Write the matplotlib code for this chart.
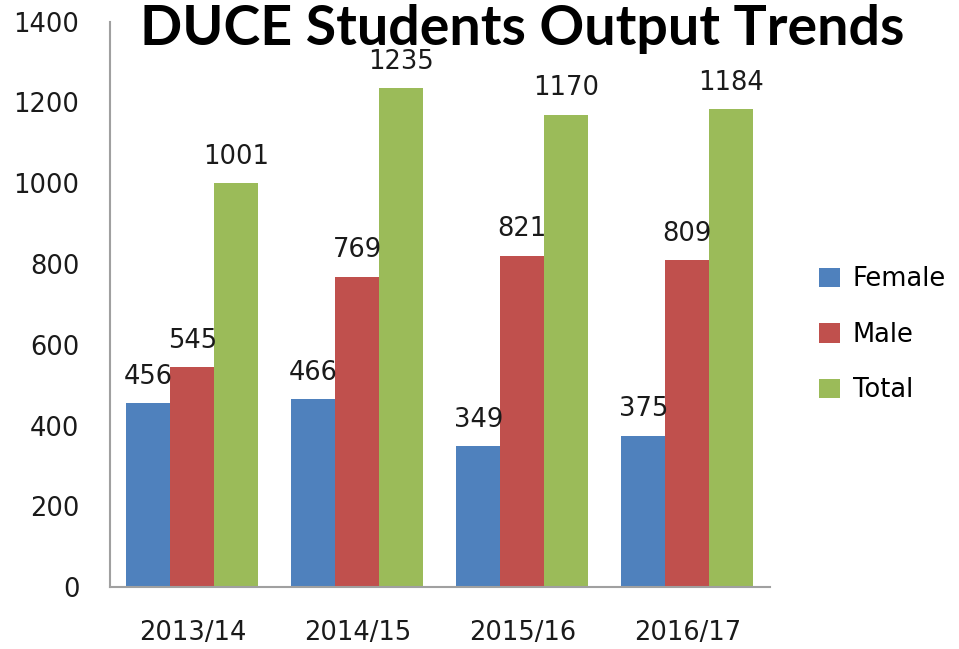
import numpy as np
import matplotlib.pyplot as plt

years = ['2013/14', '2014/15', '2015/16', '2016/17']
female = [456, 466, 349, 375]
male = [545, 769, 821, 809]
total = [1001, 1235, 1170, 1184]

series = [('Female', female, '#4F81BD'),
          ('Male', male, '#C0504D'),
          ('Total', total, '#9BBB59')]

fig = plt.figure(figsize=(9.59, 6.49), dpi=100)
ax = fig.add_axes([0.1147, 0.0955, 0.688, 0.871])

x = np.arange(len(years))
w = 0.8 / 3
for i, (name, vals, col) in enumerate(series):
    pos = x + (i - 1) * w
    bars = ax.bar(pos, vals, w, color=col, label=name)
    for b, v in zip(bars, vals):
        ax.text(b.get_x() + b.get_width() / 2, v + 33, str(v),
                ha='center', va='bottom', fontsize=18.5, color='#1a1a1a')

ax.set_xlim(-0.5, len(years) - 0.5)
ax.set_ylim(0, 1400)
ax.set_yticks(range(0, 1401, 200))
ax.set_xticks(x)
ax.set_xticklabels(years)
ax.tick_params(axis='both', length=0, labelsize=18.5, colors='#1a1a1a')
ax.tick_params(axis='y', pad=22)
ax.tick_params(axis='x', pad=24)
for s in ['top', 'right']:
    ax.spines[s].set_visible(False)
for s in ['left', 'bottom']:
    ax.spines[s].set_color('#A0A0A0')
    ax.spines[s].set_linewidth(1.5)

ax.legend(loc='center left', bbox_to_anchor=(1.04, 0.446), frameon=False,
          fontsize=18.5, handlelength=0.8, handleheight=0.8, labelspacing=1.15,
          handletextpad=0.5)

fig.text(0.545, 0.956, 'DUCE Students Output Trends', ha='center', va='center',
         fontsize=40, fontweight='bold', family='Lato')

fig.savefig('out.png', dpi=100)
